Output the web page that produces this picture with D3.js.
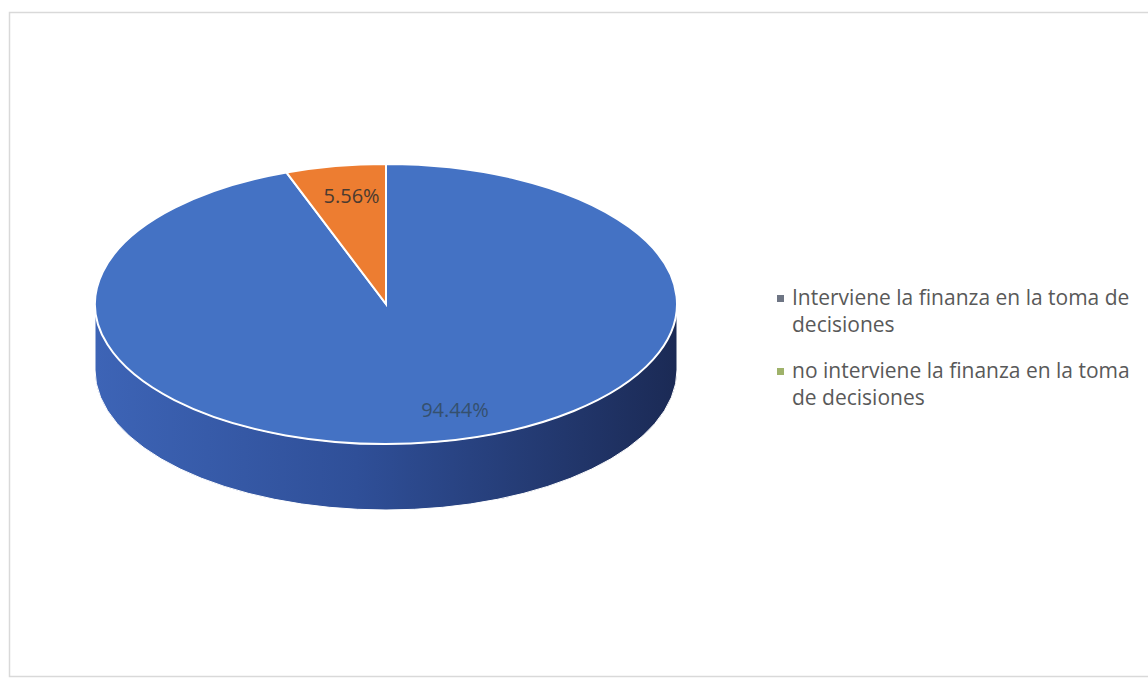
<!DOCTYPE html>
<html>
<head>
<meta charset="utf-8">
<script src="https://cdn.jsdelivr.net/npm/d3@7"></script>
<style>
	body { margin: 0; background: #fff; }
	svg { display: block; font-family: "Open Sans", Lato, sans-serif; }
</style>
</head>
<body>
<div id="chart"></div>
<script>
(function () {

	'use strict';

	// data
	const categories = [
		"Interviene la finanza en la toma de decisiones",
		"no interviene la finanza en la toma de decisiones"
	];
	const values = [94.44, 5.56];
	const labels = ["94.44%", "5.56%"];
	const topColors = ["#4472c4", "#ed7d31"];
	const legendColors = ["#6e7584", "#9fb26a"];

	// layout
	let width = 1148, height = 679;
	let cx = 386, cy = 304, rx = 291, ry = 140, depth = 66;

	let svg = d3.select("#chart").append("svg")
		.attr("width", width)
		.attr("height", height);

	let defs = svg.append("defs");
	let sideGrad = defs.append("linearGradient")
		.attr("id", "side")
		.attr("x1", "0%").attr("x2", "100%")
		.attr("y1", "0%").attr("y2", "0%");
	sideGrad.append("stop").attr("offset", "0%").attr("stop-color", "#3d64b6");
	sideGrad.append("stop").attr("offset", "45%").attr("stop-color", "#2f4f98");
	sideGrad.append("stop").attr("offset", "100%").attr("stop-color", "#1b2a55");

	// chart frame
	svg.append("rect")
		.attr("x", 9.5).attr("y", 12.5)
		.attr("width", 1145).attr("height", 664)
		.attr("fill", "#fff")
		.attr("stroke", "#d9d9d9")
		.attr("stroke-width", 1.5);

	let pie = d3.pie().sort(null).value(d => d);
	let arcs = pie(values);

	// point on the projected ellipse, angle 0 = 12 o'clock, clockwise
	function pt(a, dy) {
		return [cx + rx * Math.sin(a), cy - ry * Math.cos(a) + (dy || 0)];
	}

	// side walls (front half only, angles between PI/2 and 3PI/2)
	let walls = svg.append("g");
	arcs.forEach(function (d, i) {
		let a0 = Math.max(d.startAngle, Math.PI / 2);
		let a1 = Math.min(d.endAngle, Math.PI * 3 / 2);
		if (a1 <= a0) return;
		let p0 = pt(a0), p1 = pt(a1), q1 = pt(a1, depth), q0 = pt(a0, depth);
		let large = (a1 - a0) > Math.PI ? 1 : 0;
		let path = "M" + p0 +
			" A" + rx + "," + ry + " 0 " + large + " 1 " + p1 +
			" L" + q1 +
			" A" + rx + "," + ry + " 0 " + large + " 0 " + q0 + " Z";
		walls.append("path")
			.attr("d", path)
			.attr("fill", i === 0 ? "url(#side)" : d3.color(topColors[i]).darker(1))
			.attr("stroke", "#fff")
			.attr("stroke-width", 1);
	});

	// top face
	let arc = d3.arc().innerRadius(0).outerRadius(rx);
	let top = svg.append("g")
		.attr("transform", "translate(" + cx + "," + cy + ") scale(1," + (ry / rx) + ")");
	top.selectAll("path")
		.data(arcs)
		.enter().append("path")
		.attr("d", arc)
		.attr("fill", (d, i) => topColors[i])
		.attr("stroke", "#fff")
		.attr("stroke-width", 2)
		.attr("vector-effect", "non-scaling-stroke");

	// data labels
	let f = [0.77, 0.78];
	svg.append("g").selectAll("text")
		.data(arcs)
		.enter().append("text")
		.attr("x", (d, i) => pt((d.startAngle + d.endAngle) / 2)[0] * f[i] + cx * (1 - f[i]) + (i === 0 ? 30 : 5))
		.attr("y", (d, i) => pt((d.startAngle + d.endAngle) / 2)[1] * f[i] + cy * (1 - f[i]))
		.attr("text-anchor", "middle")
		.attr("dy", "0.35em")
		.attr("font-size", 20)
		.attr("fill", (d, i) => i === 0 ? "#35506e" : "#4a3a30")
		.text((d, i) => labels[i]);

	// legend
	let legend = svg.append("g").attr("transform", "translate(792,0)");
	let maxW = 345, lineH = 27;
	let baseY = [305, 378];
	categories.forEach(function (c, i) {
		let g = legend.append("g");
		g.append("rect")
			.attr("x", -15).attr("y", baseY[i] - 10)
			.attr("width", 7).attr("height", 7)
			.attr("fill", legendColors[i]);
		let text = g.append("text")
			.attr("font-size", 21)
			.attr("fill", "#595959");
		// word wrap
		let words = c.split(" "), line = [], n = 0;
		let tspan = text.append("tspan").attr("x", 0).attr("y", baseY[i]);
		words.forEach(function (w) {
			line.push(w);
			tspan.text(line.join(" "));
			if (tspan.node().getComputedTextLength() > maxW && line.length > 1) {
				line.pop();
				tspan.text(line.join(" "));
				line = [w];
				n++;
				tspan = text.append("tspan").attr("x", 0).attr("y", baseY[i] + n * lineH).text(w);
			}
		});
	});

})();
</script>
</body>
</html>
